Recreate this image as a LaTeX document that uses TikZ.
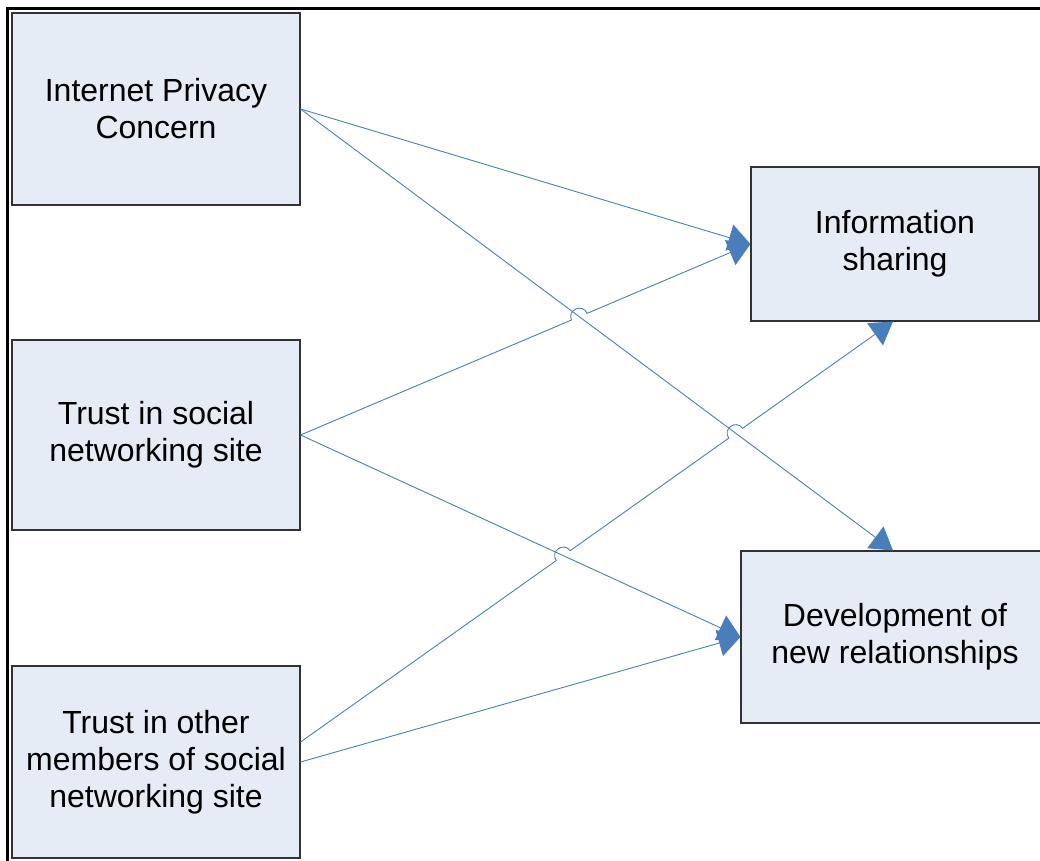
\documentclass[tikz,border=0pt]{standalone}
\usepackage{fontspec}
\setmainfont{Liberation Sans}
\usetikzlibrary{arrows.meta,calc,intersections}
\definecolor{boxfill}{RGB}{230,236,246}
\definecolor{boxline}{RGB}{50,50,50}
\definecolor{conncol}{RGB}{74,126,187}
\tikzset{
  box/.style={draw=boxline, line width=1.1pt, fill=boxfill, align=center,
    inner sep=0pt, font=\fontsize{32}{37}\selectfont},
  conn/.style={draw=conncol, line width=0.9pt, -{Triangle[length=22pt,width=27pt,fill=conncol]}},
  hop/.style={bend left=90, looseness=1.7},
}
\begin{document}
\begin{tikzpicture}[x=1pt,y=1pt]
\useasboundingbox (0,0) rectangle (1040,860);
\clip (0,0) rectangle (1040,860);
\draw[line width=3pt] (7.5,-10) -- (7.5,851.5) -- (1060,851.5);

\node[box, minimum width=288pt, minimum height=192pt] (IPC) at (156,751) {Internet Privacy\\Concern};
\node[box, minimum width=288pt, minimum height=190pt] (TSNS) at (156,425) {Trust in social\\networking site};
\node[box, minimum width=288pt, minimum height=192pt] (TO) at (156,98) {Trust in other\\members of social\\networking site};
\node[box, minimum width=288pt, minimum height=154pt] (IS) at (895,616) {Information\\sharing};
\node[box, minimum width=308pt, minimum height=172pt] (DEV) at (895,223) {Development of\\new relationships};

\coordinate (ISin) at ([xshift=-2pt]IS.south);
\coordinate (DEVin) at ([xshift=-2pt]DEV.north);
\coordinate (TOa) at ([yshift=20pt]TO.east);

\path[name path=p2] (IPC.east) -- (DEVin);
\path[name path=p3] (TSNS.east) -- (IS.west);
\path[name path=p4] (TSNS.east) -- (DEV.west);
\path[name path=p5] (TOa) -- (ISin);
\path[name intersections={of=p2 and p3, by=xa}];
\path[name intersections={of=p4 and p5, by=xb}];
\path[name intersections={of=p2 and p5, by=xc}];

\draw[conn] (IPC.east) -- (IS.west);
\draw[conn] (IPC.east) -- (DEVin);
\draw[conn] (TSNS.east) -- (DEV.west);
\draw[conn] (TO.east) -- (DEV.west);
\draw[conn] (TSNS.east) -- ($(xa)!8.5pt!(TSNS.east)$) to[hop] ($(xa)!8.5pt!(IS.west)$) -- (IS.west);
\draw[conn] (TOa) -- ($(xb)!8.5pt!(TOa)$) to[hop] ($(xb)!8.5pt!(ISin)$)
  -- ($(xc)!8.5pt!(TOa)$) to[hop] ($(xc)!8.5pt!(ISin)$) -- (ISin);
\end{tikzpicture}
\end{document}
